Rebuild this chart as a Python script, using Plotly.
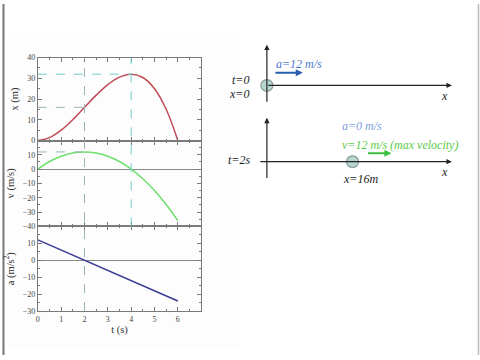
import plotly.graph_objects as go

# ---------------- data ----------------
t = [0, 0.5, 1, 1.5, 2, 2.5, 3, 3.5, 4, 4.5, 5, 5.5, 6]
x_pos = [0, 1.4, 5, 10.1, 16, 21.9, 27, 30.6, 32, 30.4, 25, 15.1, 0]
v_vel = [0, 5.3, 9, 11.3, 12, 11.3, 9, 5.3, 0, -6.8, -15, -24.8, -36]
t_acc = [0, 6]
a_acc = [12, -24]

t_key = [2, 4]          # t of max velocity, t of max position
x_key = [16, 32]        # x at those times
v_key = 12              # max velocity

x_ticks = [0, 1, 2, 3, 4, 5, 6]
x_tick_labels = ["0", "1", "2", "3", "4", "5", "6"]
pos_ticks = [0, 10, 20, 30, 40]
vel_ticks = [10, 0, -10, -20, -30, -40]
acc_ticks = [10, 0, -10, -20, -30]

diag_pos = [0, 16]                     # particle position in the diagrams (m)
diag_time_labels = ["t=0", "t=2s"]
diag_pos_labels = ["x=0", "x=16m"]
diag_acc_labels = ["a=12 m/s", "a=0 m/s"]
diag_vel_label = "v=12 m/s (max velocity)"

# ---------------- layout helpers ----------------
W, H = 480, 360
def px(xp):  # pixel -> paper x
    return xp / W
def py(yp):  # pixel -> paper y
    return 1 - yp / H

XD = [px(36), px(200)]
D1 = [py(140), py(55)]
D2 = [py(228), py(140)]
D3 = [py(315), py(228)]

# diagram axis: metres along x, pixels-down along y
SCALE = 5.375
ORIGIN = 266
X4R = [(0 - ORIGIN) / SCALE, (W - ORIGIN) / SCALE]

serif = "Liberation Serif, Times New Roman, serif"
tick_font = dict(family=serif, size=8, color="#444")
title_font = dict(family=serif, size=10.5, color="#333")
axcol = "#7a7a7a"

fig = go.Figure()

fig.add_trace(go.Scatter(x=t, y=x_pos, mode="lines", line=dict(color="#c04a55", width=1.5, shape="spline"),
                         xaxis="x", yaxis="y", showlegend=False, hoverinfo="skip"))
fig.add_trace(go.Scatter(x=t, y=v_vel, mode="lines", line=dict(color="#6ee06e", width=1.5, shape="spline"),
                         xaxis="x2", yaxis="y2", showlegend=False, hoverinfo="skip"))
fig.add_trace(go.Scatter(x=t_acc, y=a_acc, mode="lines", line=dict(color="#3a3a98", width=1.5),
                         xaxis="x3", yaxis="y3", showlegend=False, hoverinfo="skip"))

def xaxis_cfg(labels, anchor):
    return dict(domain=XD, range=[0, 7], anchor=anchor, showgrid=False, zeroline=False,
                showline=True, linecolor=axcol, linewidth=1, mirror="ticks",
                ticks="inside", ticklen=4, tickcolor=axcol, tickvals=x_ticks, ticktext=x_tick_labels,
                showticklabels=labels, tickfont=tick_font,
                minor=dict(ticks="inside", dtick=0.5, ticklen=2, tickcolor=axcol))

def yaxis_cfg(dom, rng, tv, title, anchor, zl):
    return dict(domain=dom, range=rng, anchor=anchor, showgrid=False,
                zeroline=zl, zerolinecolor="#8a8a8a", zerolinewidth=1.2,
                showline=True, linecolor=axcol, linewidth=1, mirror="ticks",
                ticks="inside", ticklen=4, tickcolor=axcol, tickvals=tv, tickfont=tick_font,
                minor=dict(ticks="inside", dtick=5, ticklen=2, tickcolor=axcol),
                title=dict(text=title, font=title_font, standoff=6))

fig.update_layout(
    width=W, height=H, autosize=False,
    margin=dict(l=0, r=0, t=0, b=0),
    paper_bgcolor="white", plot_bgcolor="rgba(0,0,0,0)",
    xaxis=xaxis_cfg(False, "y"),
    yaxis=yaxis_cfg(D1, [0, 40], pos_ticks, "x (m)", "x", False),
    xaxis2=xaxis_cfg(False, "y2"),
    yaxis2=yaxis_cfg(D2, [-40, 20], vel_ticks, "v (m/s)", "x2", True),
    xaxis3=xaxis_cfg(True, "y3"),
    yaxis3=yaxis_cfg(D3, [-30, 20], acc_ticks, "a (m/s<sup>2</sup>)", "x3", True),
    xaxis4=dict(domain=[0, 1], range=X4R, visible=False, anchor="y4"),
    yaxis4=dict(domain=[0, 1], range=[H, 0], visible=False, anchor="x4"),
)
fig.layout.xaxis3.title = dict(text="t (s)", font=title_font, standoff=2)

shapes = []
anns = []

# background panel and frame borders
shapes.append(dict(type="rect", xref="paper", yref="paper", x0=px(5), x1=px(240), y0=py(352), y1=py(35),
                   fillcolor="#fdfdfd", line=dict(width=0), layer="below"))
shapes.append(dict(type="line", xref="paper", yref="paper", x0=px(1.5), x1=px(1.5), y0=0, y1=1,
                   line=dict(color="#777", width=2)))
shapes.append(dict(type="line", xref="paper", yref="paper", x0=px(478.5), x1=px(478.5), y0=0, y1=1,
                   line=dict(color="#bbb", width=1.5)))

gray_d = dict(color="#9ab4b4", width=1, dash="dash")
cyan_d = dict(color="#70cccc", width=1, dash="dash")
# vertical guides
shapes.append(dict(type="line", xref="x", yref="paper", x0=t_key[0], x1=t_key[0], y0=D3[0], y1=D1[1], line=gray_d))
shapes.append(dict(type="line", xref="x", yref="paper", x0=t_key[1], x1=t_key[1], y0=D2[0], y1=D1[1], line=cyan_d))
# horizontal guides
shapes.append(dict(type="line", xref="x", yref="y", x0=0, x1=t_key[0], y0=x_key[0], y1=x_key[0], line=gray_d))
shapes.append(dict(type="line", xref="x", yref="y", x0=0, x1=t_key[1], y0=x_key[1], y1=x_key[1], line=cyan_d))
shapes.append(dict(type="line", xref="x2", yref="y2", x0=0, x1=t_key[0], y0=v_key, y1=v_key, line=gray_d))

# ---------------- diagrams ----------------
x_end = (451.7 - ORIGIN) / SCALE
diag_rows = [83.5, 161.7]
vtops = [41.7, 116.7]
vbots = [101.7, 180]
hstarts = [0, -1.5]
r_m = 6 / SCALE
r_p = 6

def arrow(x0, y0, x1, y1, color, width, size):
    anns.append(dict(x=x1, y=y1, ax=x0, ay=y0, xref="x4", yref="y4", axref="x4", ayref="y4",
                     text="", showarrow=True, arrowhead=2, arrowsize=size, arrowwidth=width,
                     arrowcolor=color, standoff=0, startstandoff=0))

for i in range(2):
    yr = diag_rows[i]
    arrow(hstarts[i], yr, x_end, yr, "#222", 1.2, 0.9)
    arrow(0, vbots[i], 0, vtops[i], "#222", 1.2, 0.9)
    shapes.append(dict(type="circle", xref="x4", yref="y4",
                       x0=diag_pos[i] - r_m, x1=diag_pos[i] + r_m, y0=yr - r_p, y1=yr + r_p,
                       fillcolor="#b6d8d0", line=dict(color="#8a9a98", width=1.2)))
    anns.append(dict(x=(444 - ORIGIN) / SCALE, y=yr + 10.5, xref="x4", yref="y4", text="<i>x</i>",
                     showarrow=False, font=dict(family=serif, size=12, color="#222"),
                     xanchor="center", yanchor="middle"))

it = dict(family=serif, size=12)
# top diagram labels
anns.append(dict(x=(250 - ORIGIN) / SCALE, y=78, xref="x4", yref="y4", text="<i>" + diag_time_labels[0] + "</i>",
                 showarrow=False, font=dict(**it, color="#222"), xanchor="right", yanchor="middle"))
anns.append(dict(x=(250 - ORIGIN) / SCALE, y=92, xref="x4", yref="y4", text="<i>" + diag_pos_labels[0] + "</i>",
                 showarrow=False, font=dict(**it, color="#222"), xanchor="right", yanchor="middle"))
anns.append(dict(x=(273 - ORIGIN) / SCALE, y=62, xref="x4", yref="y4", text="<i>" + diag_acc_labels[0] + "</i>",
                 showarrow=False, font=dict(**it, color="#4a78c8"), xanchor="left", yanchor="middle"))
arrow((273 - ORIGIN) / SCALE, 70.5, (302 - ORIGIN) / SCALE, 70.5, "#2a5cb0", 2, 0.7)

# bottom diagram labels
anns.append(dict(x=(251 - ORIGIN) / SCALE, y=160, xref="x4", yref="y4", text="<i>" + diag_time_labels[1] + "</i>",
                 showarrow=False, font=dict(**it, color="#222"), xanchor="right", yanchor="middle"))
anns.append(dict(x=(339 - ORIGIN) / SCALE, y=125, xref="x4", yref="y4", text="<i>" + diag_acc_labels[1] + "</i>",
                 showarrow=False, font=dict(**it, color="#7aa2dc"), xanchor="left", yanchor="middle"))
anns.append(dict(x=(339 - ORIGIN) / SCALE, y=144.5, xref="x4", yref="y4", text="<i>" + diag_vel_label + "</i>",
                 showarrow=False, font=dict(**it, color="#5acc4a"), xanchor="left", yanchor="middle"))
arrow((366 - ORIGIN) / SCALE, 153, (391 - ORIGIN) / SCALE, 153, "#3cc040", 2, 0.7)
anns.append(dict(x=(360 - ORIGIN) / SCALE, y=179, xref="x4", yref="y4", text="<i>" + diag_pos_labels[1] + "</i>",
                 showarrow=False, font=dict(**it, color="#222"), xanchor="center", yanchor="middle"))

fig.update_layout(shapes=shapes, annotations=anns)
fig.write_html("out.html")
